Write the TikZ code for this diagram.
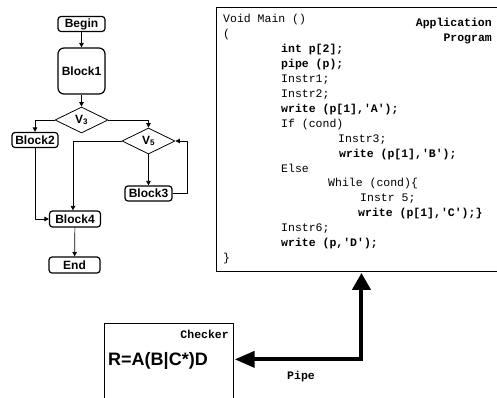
\documentclass[tikz,border=0pt]{standalone}
\usepackage{fontspec}
\setmainfont{Liberation Sans}
\setmonofont{Liberation Mono}
\usetikzlibrary{arrows.meta,shapes.geometric}
\tikzset{
  blk/.style={draw,line width=1.2pt,rounded corners=3pt,inner sep=0pt,
    minimum width=47pt,minimum height=15pt,font=\bfseries\fontsize{12}{14}\selectfont},
  dec/.style={draw,diamond,line width=0.8pt,inner sep=0pt,aspect=2,
    minimum width=53pt,minimum height=26pt,font=\bfseries\fontsize{12}{14}\selectfont},
  flow/.style={line width=0.7pt,-{Triangle[length=4.5pt,width=4.5pt]}},
  src/.style={anchor=base west,inner sep=0pt,font=\ttfamily\fontsize{11.5}{14}\selectfont},
  srcb/.style={src,font=\ttfamily\bfseries\fontsize{11.5}{14}\selectfont},
  tag/.style={inner sep=0pt,font=\ttfamily\bfseries\fontsize{11.5}{14}\selectfont},
  pipe/.style={line width=4pt,line join=miter,
    {Triangle[length=20pt,width=16pt]}-{Triangle[length=17pt,width=18pt]}}
}
\begin{document}
\begin{tikzpicture}[x=1pt,y=-1pt,line join=round]
\useasboundingbox (0,0) rectangle (497,397);
% flow chart
\node[blk] (begin) at (81.5,24) {Begin};
\node[blk,minimum height=46pt,rounded corners=6pt] (block1) at (81.5,71) {Block1};
\node[dec] (v3) at (81.5,120) {V\textsubscript{3}};
\node[blk,minimum width=46pt] (block2) at (35,140) {Block2};
\node[dec] (v5) at (148.5,141) {V\textsubscript{5}};
\node[blk] (block3) at (148.5,193.5) {Block3};
\node[blk,minimum width=51pt,minimum height=16pt] (block4) at (75,219) {Block4};
\node[blk,minimum width=51pt,minimum height=16pt] (end) at (74.5,265) {End};
\draw[flow] (begin) -- (block1);
\draw[flow] (block1) -- (v3);
\draw[flow] (v3.west) -| (block2);
\draw[flow] (v3.east) -| (v5);
\draw[flow] (v5.west) -| ([xshift=-2pt]block4.north);
\draw[flow] (v5) -- (block3);
\draw[flow] (block3.east) -- ++(15,0) |- (v5.east);
\draw[flow] (block2) |- (block4);
\draw[flow] (block4) -- (end);
% application program
\node[draw,line width=0.9pt,anchor=north west,inner sep=0pt,
  minimum width=290pt,minimum height=264pt] (prog) at (216,7) {};
\node[tag,anchor=base east] (apptag) at (492,26.5) {Application};
\node[tag,anchor=base east] (progtag) at (492,41.5) {Program};
\node[src]  (vmain)  at (223,22.5)  {Void Main ()};
\node[src]  (lbrace) at (223,37.45) {(};
\node[srcb] (intp)   at (281,52.4)  {int p[2];};
\node[srcb] (pipep)  at (281,67.35) {pipe (p);};
\node[src]  (ins1)   at (281,82.3)  {Instr1;};
\node[src]  (ins2)   at (281,97.25) {Instr2;};
\node[srcb] (wra)    at (281,112.2) {write (p[1],'A');};
\node[src]  (ifc)    at (281,127.15) {If (cond)};
\node[src]  (ins3)   at (338,142.1) {Instr3;};
\node[srcb] (wrb)    at (339,157.05) {write (p[1],'B');};
\node[src]  (els)    at (281,172)   {Else};
\node[src]  (whl)    at (328,186.95) {While (cond)\{};
\node[src]  (ins5)   at (360,201.9) {Instr 5;};
\node[srcb] (wrc)    at (358,216.85) {write (p[1],'C');\}};
\node[src]  (ins6)   at (281,231.8) {Instr6;};
\node[srcb] (wrd)    at (281,246.75) {write (p,'D');};
\node[src]  (rbrace) at (223,261.7) {\}};
% checker
\node[draw,line width=0.7pt,anchor=north west,inner sep=0pt,
  minimum width=129pt,minimum height=76pt] (checker) at (104,323) {};
\node[tag,anchor=north east] (chktag) at (229,330) {Checker};
\node[inner sep=0pt,font=\bfseries\fontsize{18}{20}\selectfont] (regex) at (158,361) {R=A(B|C*)D};
\draw[pipe] ([xshift=1pt,yshift=2pt]checker.east) -| ([yshift=-1pt]prog.south);
\node[tag] (pipetag) at (301,377) {Pipe};
\end{tikzpicture}
\end{document}
